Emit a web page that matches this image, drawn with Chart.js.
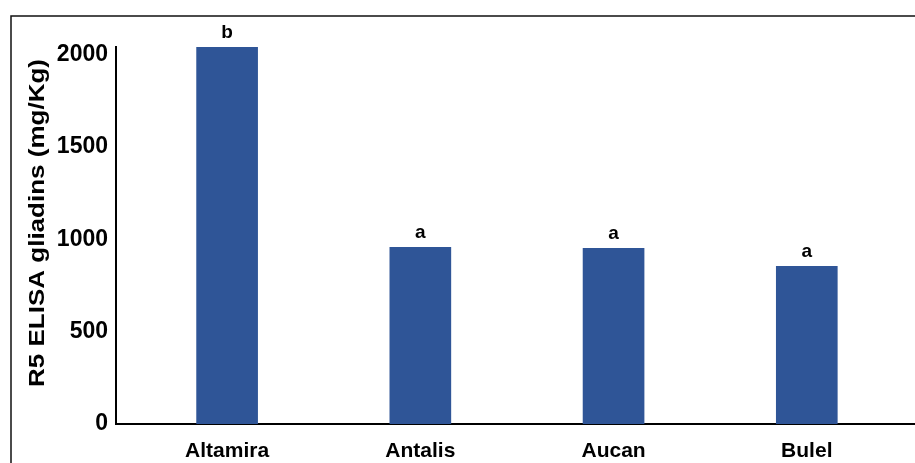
<!DOCTYPE html>
<html>
<head>
<meta charset="utf-8">
<script src="https://cdn.jsdelivr.net/npm/chart.js@4/dist/chart.umd.min.js"></script>
<style>
  html, body { margin: 0; padding: 0; background: #fff; overflow: hidden; }
  #wrap { position: relative; width: 915px; height: 463px; }
  canvas { display: block; }
</style>
</head>
<body>
<div id="wrap"><canvas id="c" width="915" height="463"></canvas></div>
<script>
// Wheat varieties and their R5 ELISA gliadin content (mg/Kg)
const categories = ['Altamira', 'Antalis', 'Aucan', 'Bulel'];
const gliadins = [2040, 956, 951, 853];
// Significance groups printed over each bar
const groups = ['b', 'a', 'a', 'a'];
const yTicks = [0, 500, 1000, 1500, 2000];
const yTitle = 'R5 ELISA gliadins (mg/Kg)';

const FONT = '"Liberation Sans", Arial, Helvetica, sans-serif';

// Outer frame (left and top edges of the figure box)
const framePlugin = {
  id: 'frame',
  beforeDraw(chart) {
    const ctx = chart.ctx;
    ctx.save();
    ctx.strokeStyle = '#111';
    ctx.lineWidth = 1.5;
    ctx.beginPath();
    ctx.moveTo(11, 470);
    ctx.lineTo(11, 16);
    ctx.lineTo(920, 16);
    ctx.stroke();
    ctx.restore();
  }
};

// Vertical axis title, set in a narrow bold face
const yTitlePlugin = {
  id: 'yTitle',
  afterDraw(chart) {
    const ctx = chart.ctx;
    ctx.save();
    ctx.translate(38, 223);
    ctx.rotate(-Math.PI / 2);
    ctx.scale(1, 0.85);
    ctx.fillStyle = '#000';
    ctx.font = 'bold 26px ' + FONT;
    ctx.textAlign = 'center';
    ctx.textBaseline = 'middle';
    ctx.fillText(yTitle, 0, 0);
    ctx.restore();
  }
};

// Group letters above the bars
const letterPlugin = {
  id: 'letters',
  afterDatasetsDraw(chart) {
    const ctx = chart.ctx;
    const meta = chart.getDatasetMeta(0);
    ctx.save();
    ctx.fillStyle = '#000';
    ctx.font = 'bold 19px ' + FONT;
    ctx.textAlign = 'center';
    ctx.textBaseline = 'alphabetic';
    meta.data.forEach((bar, i) => {
      ctx.fillText(groups[i], bar.x, bar.y - 9);
    });
    ctx.restore();
  }
};

new Chart(document.getElementById('c'), {
  type: 'bar',
  data: {
    datasets: [{
      data: gliadins.map((v, i) => ({ x: i, y: v })),
      backgroundColor: '#2F5597',
      borderWidth: 0,
      barThickness: 61
    }]
  },
  options: {
    responsive: false,
    animation: false,
    devicePixelRatio: 1,
    layout: { padding: { top: 47, right: 0, bottom: 0, left: 0 } },
    plugins: { legend: { display: false }, tooltip: { enabled: false } },
    scales: {
      x: {
        type: 'linear',
        offset: false,
        min: -0.575,
        max: 3.56,
        grid: { display: false, drawTicks: false, offset: false },
        border: { display: true, color: '#000', width: 2 },
        afterBuildTicks: (scale) => { scale.ticks = categories.map((_, i) => ({ value: i })); },
        afterFit: (scale) => { scale.height = 39; },
        ticks: {
          autoSkip: false,
          maxRotation: 0,
          padding: 15,
          color: '#000',
          font: { family: FONT, size: 21, weight: 'bold' },
          callback: (v) => categories[v]
        }
      },
      y: {
        min: 0,
        max: 2040,
        grid: { display: false, drawTicks: false },
        border: { display: true, color: '#000', width: 2 },
        afterBuildTicks: (scale) => { scale.ticks = yTicks.map(v => ({ value: v })); },
        afterFit: (scale) => { scale.width = 116; },
        ticks: {
          padding: 8,
          color: '#000',
          font: { family: FONT, size: 23, weight: 'bold' },
          callback: (v) => String(v)
        }
      }
    }
  },
  plugins: [framePlugin, letterPlugin, yTitlePlugin]
});
</script>
</body>
</html>
